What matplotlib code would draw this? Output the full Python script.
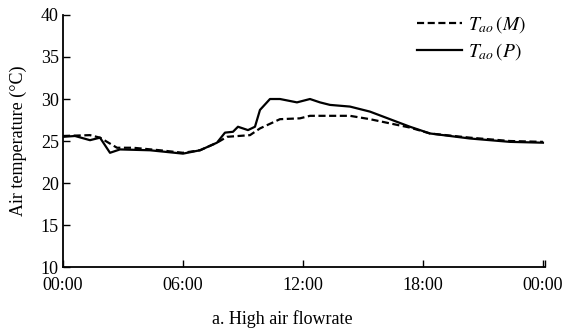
import matplotlib
matplotlib.use('Agg')
import matplotlib.pyplot as plt

plt.rcParams['font.family'] = ['Liberation Serif', 'DejaVu Serif']
plt.rcParams['mathtext.fontset'] = 'stix'

# measured (M) air outlet temperature, hours vs degC
hours_m = [0.0, 1.35, 1.85, 2.7, 3.5, 4.85, 6.0, 6.85, 7.7, 8.2, 9.35, 9.85,
           10.85, 11.85, 12.35, 14.35, 15.35, 16.35, 17.35, 18.35, 20.35, 22.35, 24.0]
temp_m = [25.6, 25.7, 25.4, 24.2, 24.2, 23.9, 23.6, 23.9, 24.8, 25.5, 25.7, 26.5,
          27.6, 27.7, 28.0, 28.0, 27.6, 27.1, 26.6, 25.9, 25.4, 25.0, 24.9]

# predicted (P)
hours_p = [0.0, 0.6, 1.35, 1.85, 2.35, 2.85, 4.35, 6.0, 6.85, 7.7, 8.1, 8.5, 8.75,
           9.25, 9.6, 9.85, 10.35, 10.85, 11.7, 12.35, 12.85, 13.35, 14.35, 15.35,
           16.35, 17.35, 18.35, 20.35, 22.35, 24.0]
temp_p = [25.5, 25.6, 25.1, 25.4, 23.6, 24.0, 23.9, 23.5, 23.9, 24.8, 26.0, 26.1, 26.7,
          26.3, 26.7, 28.7, 30.0, 30.0, 29.6, 30.0, 29.6, 29.3, 29.1, 28.5,
          27.6, 26.7, 25.9, 25.3, 24.9, 24.8]

xticks = [0, 6, 12, 18, 24]
xlabels = ['00:00', '06:00', '12:00', '18:00', '00:00']

fig = plt.figure(figsize=(5.65, 3.33), dpi=100)
ax = fig.add_axes([0.1115, 0.198, 0.853, 0.757])

ax.plot(hours_m, temp_m, color='black', lw=1.6, ls=(0, (3.2, 1.6)), label=r'$T_{ao}\,(M)$')
ax.plot(hours_p, temp_p, color='black', lw=1.6, ls='-', label=r'$T_{ao}\,(P)$')

ax.set_xlim(0, 24.1)
ax.set_ylim(10, 40)
ax.set_xticks(xticks)
ax.set_xticklabels(xlabels)
ax.set_xticks([24.1], minor=True)
ax.set_yticks(range(10, 41, 5))
ax.tick_params(direction='in', length=5, width=1, labelsize=13)
ax.tick_params(axis='x', pad=7)
ax.tick_params(axis='y', pad=3)
ax.tick_params(which='minor', direction='in', length=5, width=1)
for s in ['top', 'right']:
    ax.spines[s].set_visible(False)
for s in ['left', 'bottom']:
    ax.spines[s].set_linewidth(1.3)

ax.set_ylabel('Air temperature (°C)', fontsize=13, labelpad=10)

ax.legend(loc='upper left', bbox_to_anchor=(0.707, 1.01), bbox_transform=fig.transFigure,
          frameon=False, fontsize=14, handlelength=2.3, handletextpad=0.3, labelspacing=0.3)

fig.text(0.5, 0.028, 'a. High air flowrate', ha='center', fontsize=13)

fig.savefig('out.png', dpi=100)
